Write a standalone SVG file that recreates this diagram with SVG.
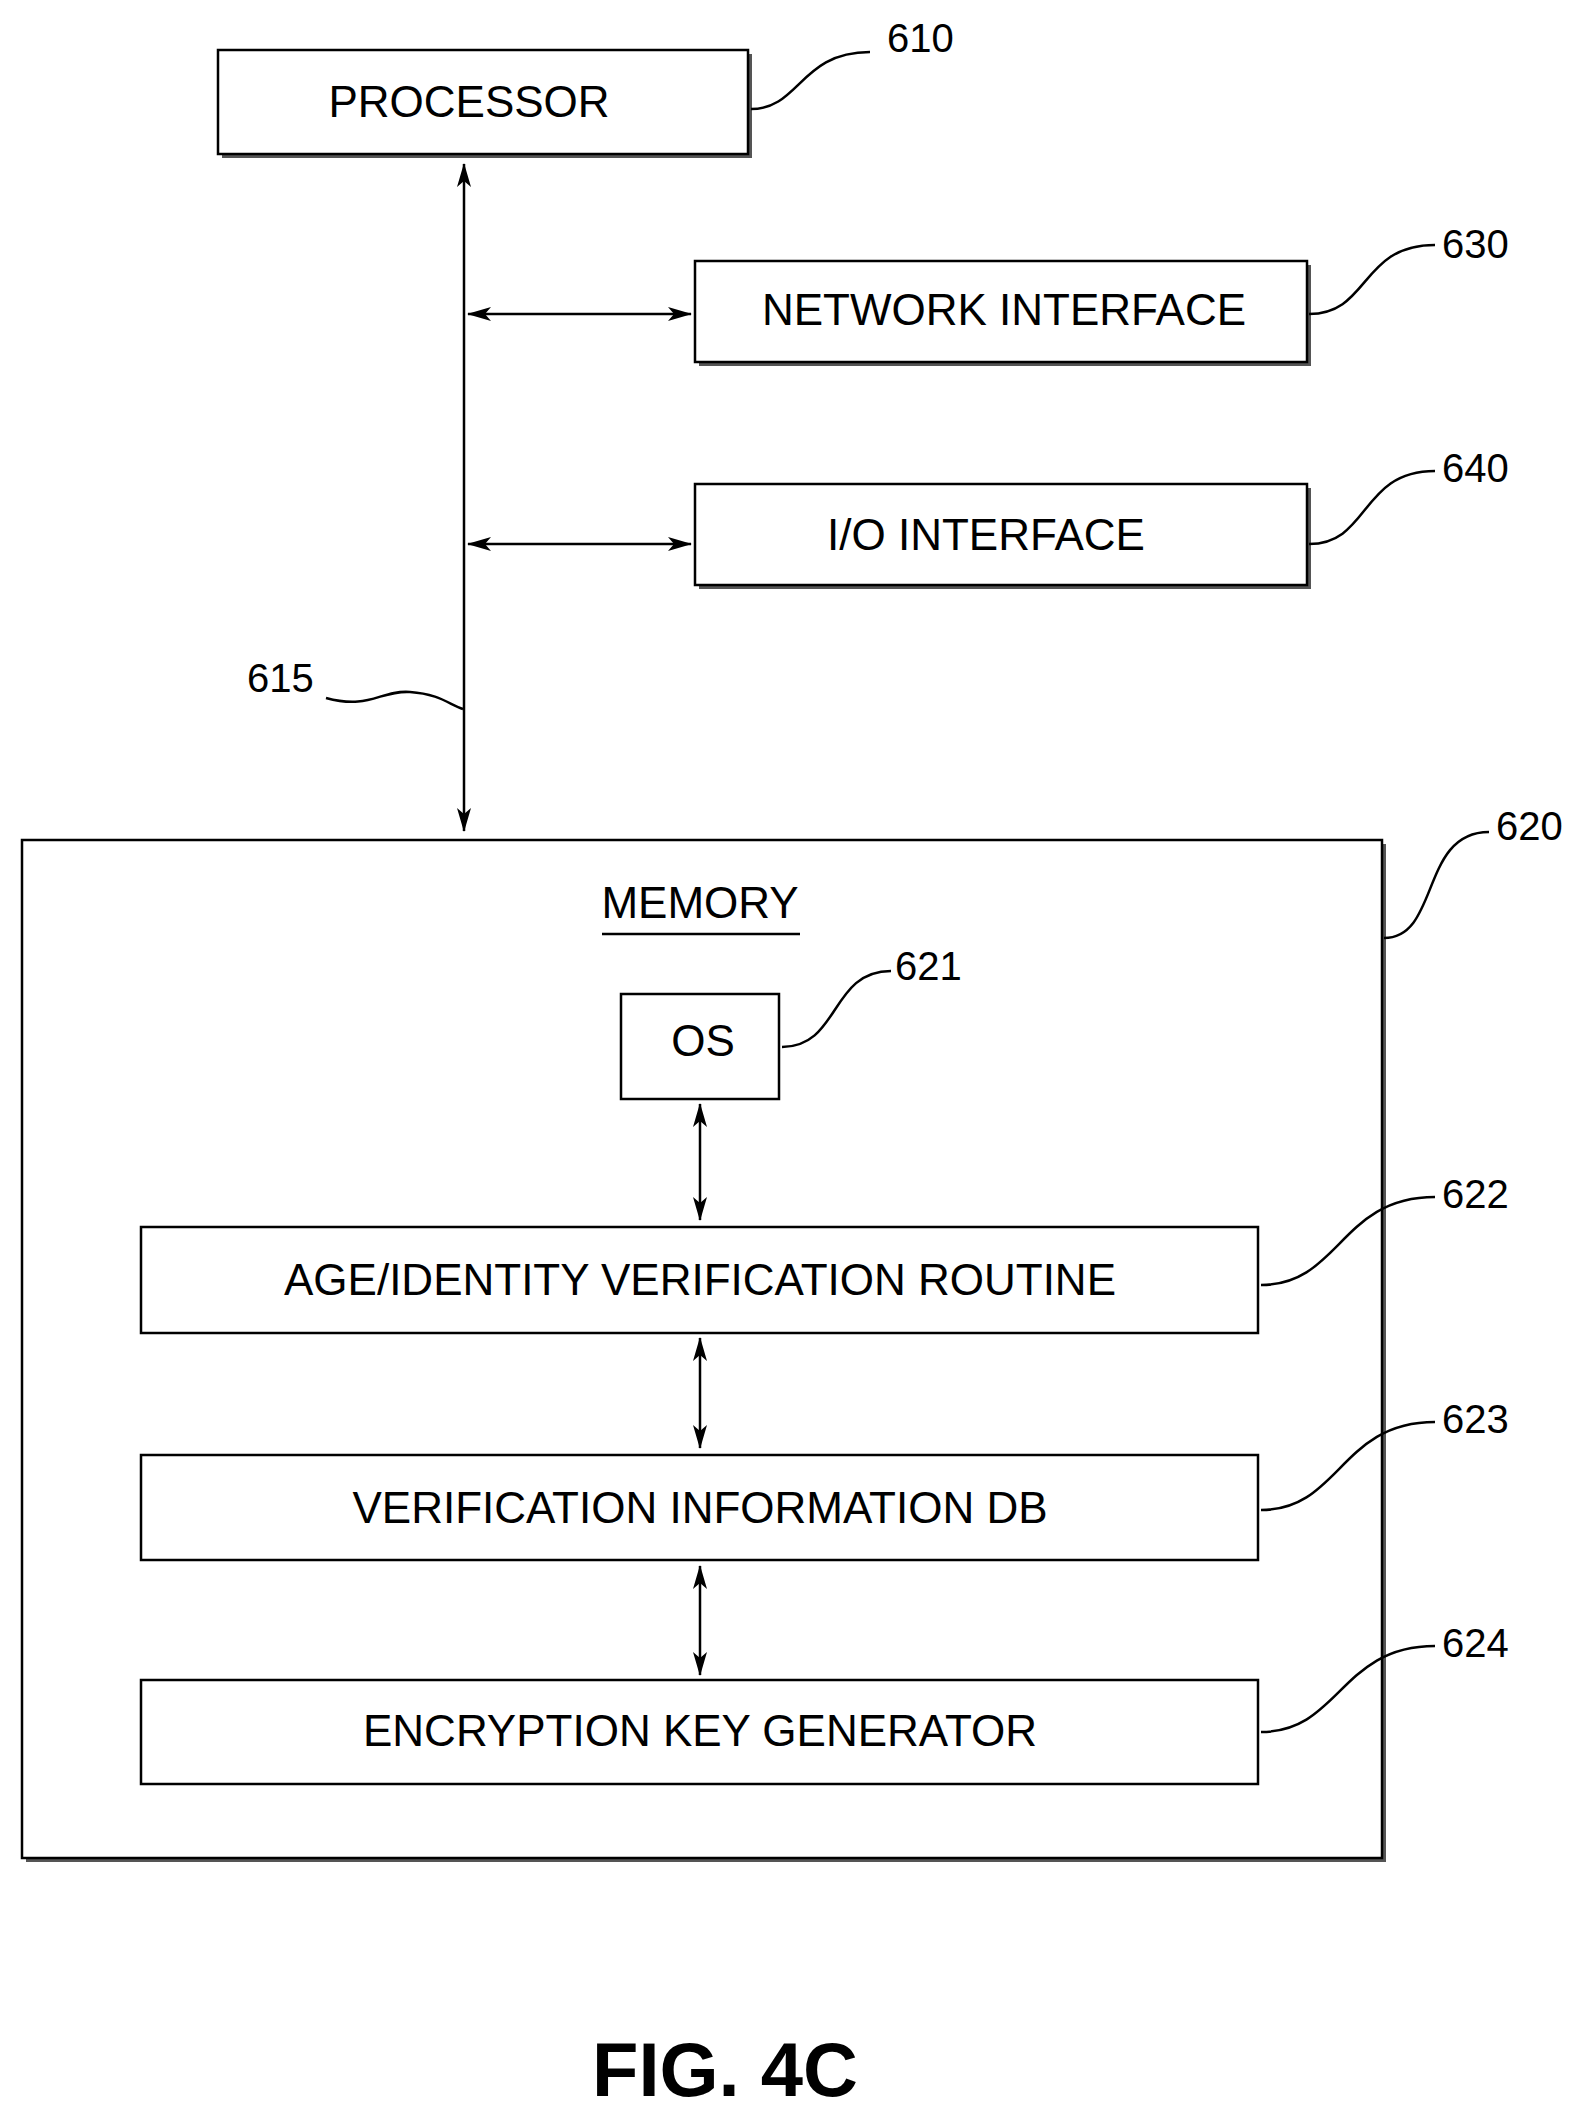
<svg xmlns="http://www.w3.org/2000/svg" width="1577" height="2116" viewBox="0 0 1577 2116">
<style>
.b{fill:#fff;stroke:#000;stroke-width:2.5}
.s{fill:none;stroke:#555;stroke-width:4}
.t{font-family:"Liberation Sans",Arial,sans-serif;font-size:44px;text-anchor:middle;fill:#000}
.n{font-family:"Liberation Sans",Arial,sans-serif;font-size:40px;fill:#000}
.l{fill:none;stroke:#000;stroke-width:2.5}
</style>
<defs>
<marker id="a" viewBox="0 0 24 14" refX="23" refY="7" markerWidth="24" markerHeight="14" markerUnits="userSpaceOnUse" orient="auto-start-reverse"><path d="M0,0 L24,7 L0,14 L6,7 Z" fill="#000"/></marker>
</defs>
<rect width="1577" height="2116" fill="#fff"/>
<g id="processor"><path class="s" d="M222,156 H750 V54"/><rect class="b" x="218" y="50" width="530" height="104"/><text class="t" x="469" y="117">PROCESSOR</text><path class="l" d="M751,109 C800,109 800,52 870,52"/><text class="n" x="887" y="52">610</text></g>
<g id="network"><path class="s" d="M699,364 H1309 V265"/><rect class="b" x="695" y="261" width="612" height="101"/><text class="t" x="1004" y="325">NETWORK INTERFACE</text><path class="l" d="M1309,314 C1370,314 1360,245 1435,245"/><text class="n" x="1442" y="258">630</text></g>
<g id="io"><path class="s" d="M699,587 H1309 V488"/><rect class="b" x="695" y="484" width="612" height="101"/><text class="t" x="986" y="550">I/O INTERFACE</text><path class="l" d="M1309,544 C1370,544 1360,471 1435,471"/><text class="n" x="1442" y="482">640</text></g>
<g id="memory"><path class="s" d="M26,1860 H1384 V844"/><rect class="b" x="22" y="840" width="1360" height="1018"/><text class="t" x="700" y="918">MEMORY</text><path class="l" d="M602,934 H800"/><path class="l" d="M1384,938 C1440,938 1420,832 1489,832"/><text class="n" x="1496" y="840">620</text></g>
<g id="os"><rect class="b" x="621" y="994" width="158" height="105"/><text class="t" x="703" y="1056">OS</text><path class="l" d="M782,1047 C840,1047 830,971 891,971"/><text class="n" x="895" y="980">621</text></g>
<g id="age"><rect class="b" x="141" y="1227" width="1117" height="106"/><text class="t" x="700" y="1295">AGE/IDENTITY VERIFICATION ROUTINE</text><path class="l" d="M1261,1285 C1340,1285 1340,1197 1435,1197"/><text class="n" x="1442" y="1208">622</text></g>
<g id="verdb"><rect class="b" x="141" y="1455" width="1117" height="105"/><text class="t" x="700" y="1523">VERIFICATION INFORMATION DB</text><path class="l" d="M1261,1510 C1340,1510 1340,1422 1435,1422"/><text class="n" x="1442" y="1433">623</text></g>
<g id="enc"><rect class="b" x="141" y="1680" width="1117" height="104"/><text class="t" x="700" y="1746">ENCRYPTION KEY GENERATOR</text><path class="l" d="M1261,1732 C1340,1732 1340,1646 1435,1646"/><text class="n" x="1442" y="1657">624</text></g>
<g id="connectors">
<path class="l" d="M464,164 V831" marker-start="url(#a)" marker-end="url(#a)"/>
<path class="l" d="M468,314 H691" marker-start="url(#a)" marker-end="url(#a)"/>
<path class="l" d="M468,544 H691" marker-start="url(#a)" marker-end="url(#a)"/>
<path class="l" d="M700,1104 V1220" marker-start="url(#a)" marker-end="url(#a)"/>
<path class="l" d="M700,1338 V1448" marker-start="url(#a)" marker-end="url(#a)"/>
<path class="l" d="M700,1566 V1675" marker-start="url(#a)" marker-end="url(#a)"/>
<path class="l" d="M326,698 C370,710 380,690 410,692 C440,694 450,705 463,709"/>
<text class="n" x="247" y="692">615</text>
</g>
<text x="725" y="2096" style="font-family:'Liberation Sans',Arial,sans-serif;font-size:76px;font-weight:bold;text-anchor:middle">FIG. 4C</text>
</svg>
